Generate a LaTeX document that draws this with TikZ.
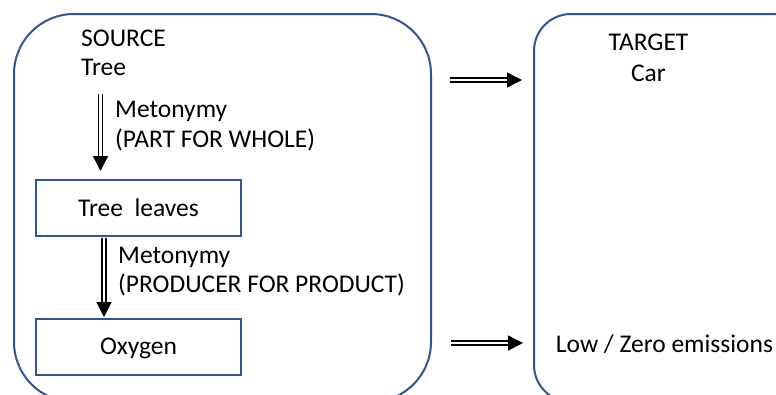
\documentclass[tikz,border=0pt]{standalone}
\usepackage{fontspec}
\setmainfont{Carlito}
\usetikzlibrary{arrows.meta}
\definecolor{boxblue}{HTML}{2F5597}
\tikzset{
  frame/.style={draw=boxblue, line width=2pt},
  innerbox/.style={draw=boxblue, line width=2pt, minimum width=205pt, minimum height=56pt, inner sep=0pt, text height=16pt, text depth=0pt},
  txt/.style={inner sep=0pt, anchor=base west},
  ctxt/.style={inner sep=0pt, anchor=base},
  darrow/.style={draw=black, line width=1.4pt, double=white, double distance=2.4pt, -{Triangle[length=15pt,width=15pt]}}
}
\begin{document}
\begin{tikzpicture}[x=1pt,y=-1pt,font=\fontsize{25.5}{30}\selectfont]
\useasboundingbox (0,0) rectangle (776,394);
\begin{scope}
\clip (0,0) rectangle (776,394);
\draw[frame, rounded corners=60pt] (14,14) rectangle (431,402);
\draw[frame, rounded corners=37pt] (534,14) rectangle (815,402);
\end{scope}
% source texts
\node[txt] (src) at (81,46) {SOURCE};
\node[txt] (tree) at (81,75) {Tree};
\node[txt] (m1) at (115,117) {Metonymy};
\node[txt] (m1b) at (115,147) {(PART FOR WHOLE)};
\node[innerbox] (leaves) at (138.5,208) {Tree\ \ leaves};
\node[txt] (m2) at (118,263) {Metonymy};
\node[txt] (m2b) at (118,292) {(PRODUCER FOR PRODUCT)};
\node[innerbox] (oxy) at (138.5,346.5) {Oxygen};
% target texts
\node[ctxt] (tgt) at (648.5,50) {TARGET};
\node[ctxt] (car) at (648.5,81) {Car};
\node[ctxt] (low) at (664.5,352) {Low / Zero emissions};
% arrows
\coordinate (a1s) at (100.5,94);
\coordinate (a1e) at (100.5,171);
\draw[darrow] (a1s) -- (a1e);
\coordinate (a2s) at (104,238);
\coordinate (a2e) at (104,317);
\draw[darrow] (a2s) -- (a2e);
\coordinate (h1s) at (450,80);
\coordinate (h1e) at (522,80);
\draw[darrow] (h1s) -- (h1e);
\coordinate (h2s) at (451,343);
\coordinate (h2e) at (523,343);
\draw[darrow] (h2s) -- (h2e);
\end{tikzpicture}
\end{document}
